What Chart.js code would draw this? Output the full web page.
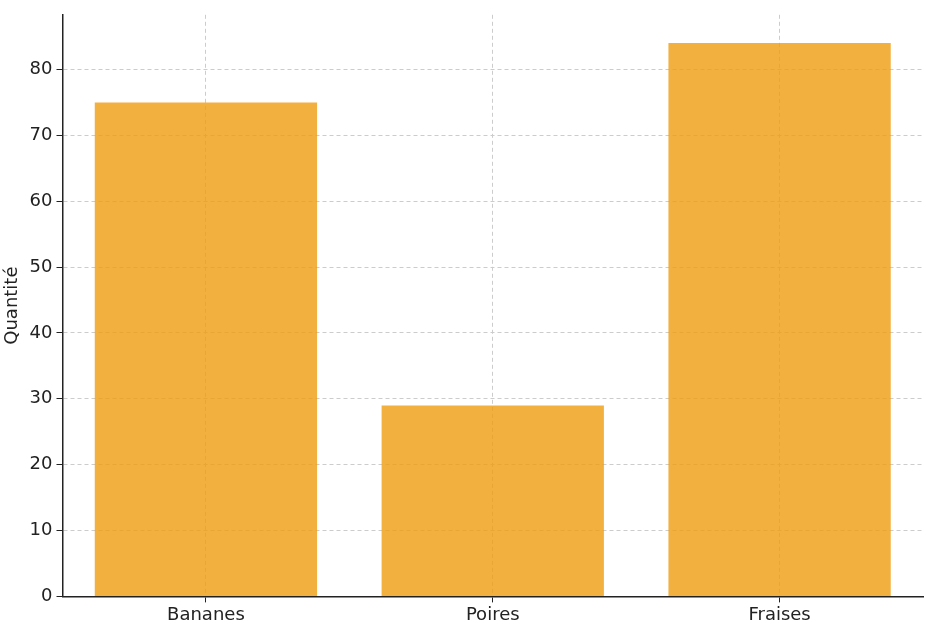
<!DOCTYPE html>
<html><head><meta charset="utf-8">
<script src="https://cdn.jsdelivr.net/npm/chart.js@4"></script>
<style>html,body{margin:0;background:#fff}#w{width:926px;height:628px}</style>
</head><body><div id="w"><canvas id="c"></canvas></div>
<script>
const categories = ["Bananes", "Poires", "Fraises"];
const values = [75, 29, 84];
const yTicks = [0, 10, 20, 30, 40, 50, 60, 70, 80];
const yLabel = "Quantité";
new Chart(document.getElementById('c'), {
  type: 'bar',
  data: { labels: categories, datasets: [{ data: values, backgroundColor: 'rgba(239,156,14,0.8)', borderWidth: 0, barPercentage: 0.775, categoryPercentage: 1 }] },
  options: {
    responsive: true, maintainAspectRatio: false, animation: false,
    layout: { padding: { top: 5, right: 3, left: 0, bottom: 0 } },
    plugins: { legend: { display: false }, tooltip: { enabled: false } },
    scales: {
      x: { grid: { offset: false, color: '#cccccc', lineWidth: 1, drawTicks: true, tickLength: 6, tickColor: '#222' },
           border: { color: '#222', width: 1.5, dash: [4, 3] },
           ticks: { color: '#222', font: { family: 'DejaVu Sans', size: 18 }, padding: 2 } },
      y: { min: 0, max: 88.3, afterBuildTicks: a => { a.ticks = yTicks.map(v => ({ value: v })); },
           grid: { color: '#cccccc', lineWidth: 1, tickLength: 6, tickColor: '#222' },
           border: { color: '#222', width: 1.5, dash: [4, 3] },
           ticks: { color: '#222', font: { family: 'DejaVu Sans', size: 18 }, padding: 4 },
           title: { display: true, text: yLabel, color: '#222', font: { family: 'DejaVu Sans', size: 18 }, padding: 2 } }
    }
  }
});
</script></body></html>
